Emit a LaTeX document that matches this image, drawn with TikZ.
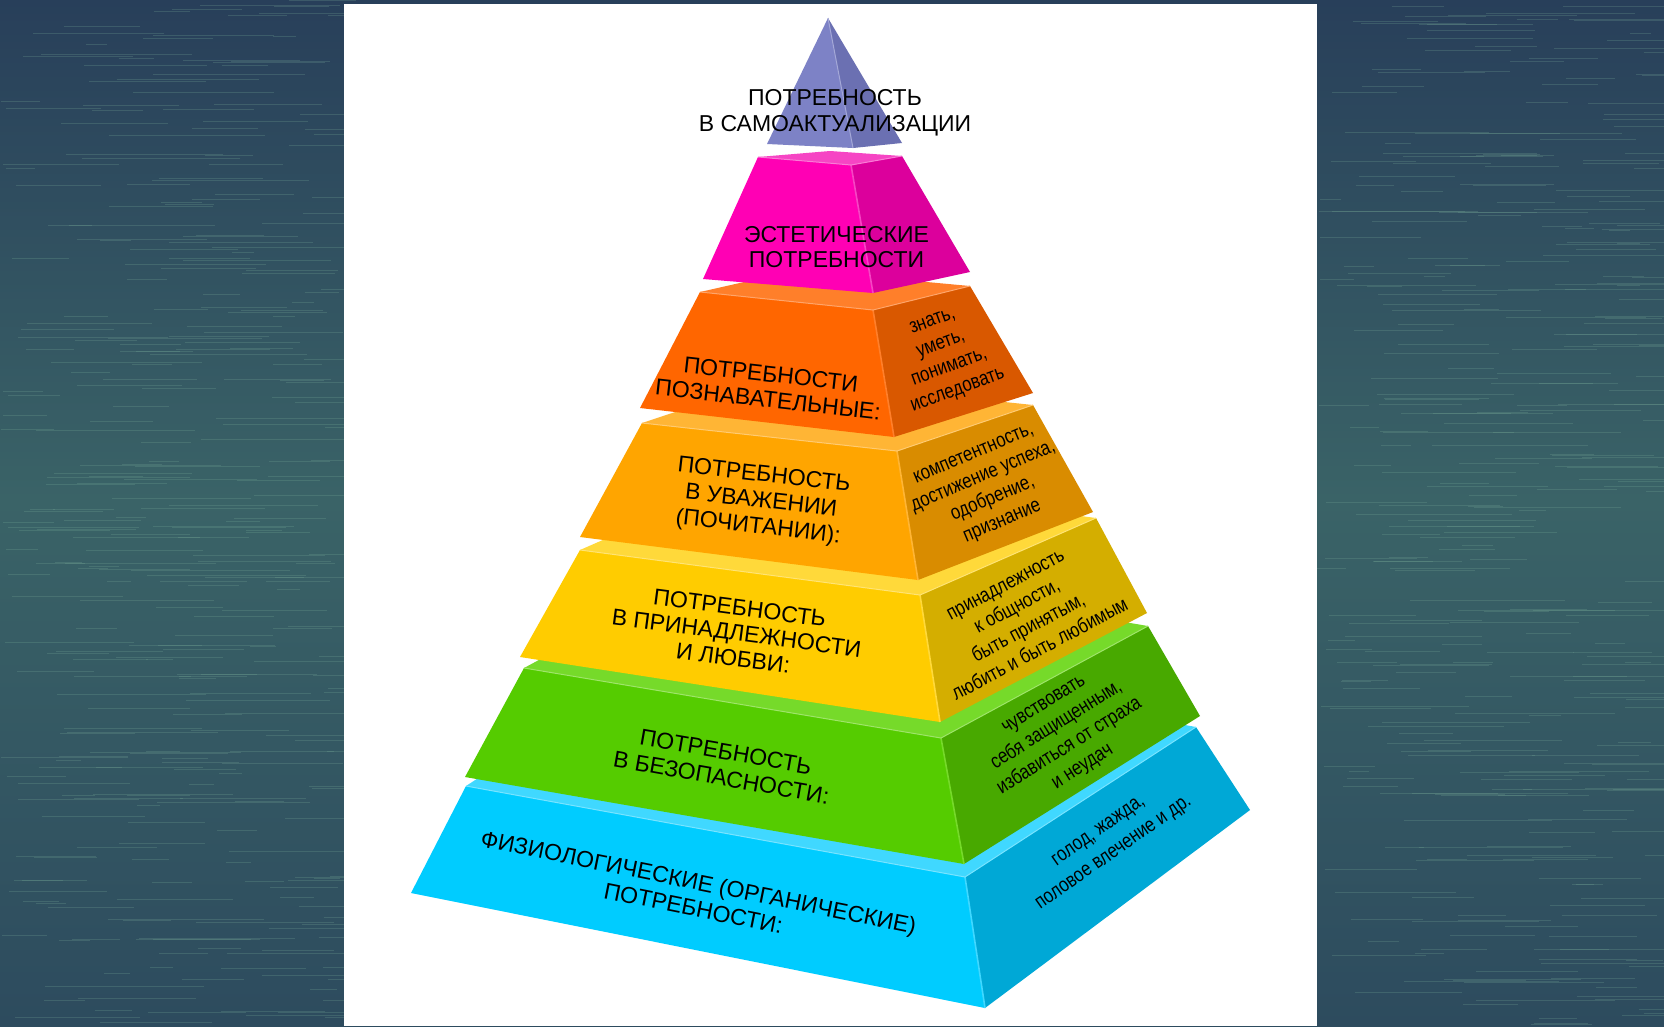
\documentclass[tikz,border=0pt]{standalone}
\usepackage{fontspec}
\setmainfont{Liberation Sans}
\newfontfamily\sidefont[FakeStretch=0.82]{Liberation Sans}
\usetikzlibrary{calc}
\definecolor{bgtop}{HTML}{283F5A}
\definecolor{bgmid}{HTML}{3A6367}
\definecolor{bgbot}{HTML}{2D4B5E}
\definecolor{streak}{HTML}{78AA98}
% purple
\definecolor{lpleft}{HTML}{7D82C6}
\definecolor{lpright}{HTML}{6B70B2}
% magenta
\definecolor{lmtop}{HTML}{F645C4}
\definecolor{lmfront}{HTML}{FF00B4}
\definecolor{lmside}{HTML}{DC009C}
% orange
\definecolor{lotop}{HTML}{FF7F2A}
\definecolor{lofront}{HTML}{FF6600}
\definecolor{loside}{HTML}{D95800}
% amber
\definecolor{latop}{HTML}{FFB535}
\definecolor{lafront}{HTML}{FFA500}
\definecolor{laside}{HTML}{D98C00}
% yellow
\definecolor{lytop}{HTML}{FFD93A}
\definecolor{lyfront}{HTML}{FFCC00}
\definecolor{lyside}{HTML}{D4AE00}
% green
\definecolor{lgtop}{HTML}{76DA2A}
\definecolor{lgfront}{HTML}{55CC00}
\definecolor{lgside}{HTML}{48A900}
% cyan
\definecolor{lctop}{HTML}{40D8FF}
\definecolor{lcfront}{HTML}{00CCFF}
\definecolor{lcside}{HTML}{00A8D6}
\tikzset{
  maintext/.style={align=center, font=\fontsize{23}{25.5}\selectfont, text=black, inner sep=0pt},
  sidetext/.style={align=center, font=\sidefont\fontsize{20.5}{24.5}\selectfont, text=black, inner sep=0pt},
}
% #1 colour prefix, #2 TL, #3 TB, #4 TR, #5 TF, #6 BL, #7 BF, #8 BR
\newcommand\pyrlayer[8]{%
  \fill[#1top] #2 -- #3 -- #4 -- #5 -- cycle;
  \fill[#1front] #2 -- #5 -- #7 -- #6 -- cycle;
  \fill[#1side] #5 -- #4 -- #8 -- #7 -- cycle;
  \draw[#1top, line width=1.6pt] #5 -- #7;
  \draw[#1top!70!white, line width=1pt] #2 -- #5 -- #4;
}
\begin{document}
\begin{tikzpicture}[x=1pt,y=-1pt]
\useasboundingbox (0,0) rectangle (1664,1026);
% background
\fill[bgbot] (0,0) rectangle (1664,1026);
\shade[top color=bgtop, bottom color=bgmid] (0,0) rectangle (1664,500);
\shade[top color=bgmid, bottom color=bgbot] (0,500) rectangle (1664,1026);
\pgfmathsetseed{11}
\foreach \i in {1,...,320}{
  \pgfmathsetmacro\yy{rnd*1026}
  \pgfmathsetmacro\xx{rnd*330}
  \pgfmathsetmacro\ll{20+rnd*140}
  \draw[streak, opacity=0.25, line width=1pt] (\xx,\yy) -- ++(\ll,0);
  \pgfmathsetmacro\yb{rnd*1026}
  \pgfmathsetmacro\xb{1317+rnd*330}
  \pgfmathsetmacro\lb{20+rnd*140}
  \draw[streak, opacity=0.25, line width=1pt] (\xb,\yb) -- ++(\lb,0);
}
% white panel
\fill[white] (344,4) rectangle (1317,1026);

% layers, bottom to top
\pyrlayer{lc}{(466,786)}{(697,636)}{(1196,727)}{(965,877)}{(411,893)}{(985,1008)}{(1250,810)}
\pyrlayer{lg}{(524,668)}{(732,556)}{(1148,626)}{(941,738)}{(465,777)}{(964,864)}{(1200,716)}
\pyrlayer{ly}{(580,550)}{(756,473)}{(1096,518)}{(920,595)}{(520,657)}{(940,722)}{(1147,613)}
\pyrlayer{la}{(642,423)}{(778,378)}{(1033,405)}{(897,451)}{(580,537)}{(918,580)}{(1093,512)}
\pyrlayer{lo}{(700,292)}{(797,270)}{(970,286)}{(873,310)}{(640,408)}{(894,437)}{(1033,393)}
\pyrlayer{lm}{(758,157)}{(830,151)}{(902,156)}{(851,165)}{(703,279)}{(873,293)}{(970,272)}
% apex
\fill[lpleft] (828,18) -- (767,144) -- (853,148) -- cycle;
\fill[lpright] (828,18) -- (853,148) -- (902,143) -- cycle;
\draw[lpleft!70!white, line width=1pt] (828,18) -- (853,148);

% front labels
\node[maintext] (t7) at (835,113) {ПОТРЕБНОСТЬ\\В САМОАКТУАЛИЗАЦИИ};
\node[maintext] (t6) at (836.5,247) {ЭСТЕТИЧЕСКИЕ\\ПОТРЕБНОСТИ};
\node[maintext, rotate=-6.4] (t5) at (769.5,387) {ПОТРЕБНОСТИ\\ПОЗНАВАТЕЛЬНЫЕ:};
\node[maintext, rotate=-6.5, font=\fontsize{23}{26}\selectfont] (t4) at (761,502) {ПОТРЕБНОСТЬ\\В УВАЖЕНИИ\\(ПОЧИТАНИИ):};
\node[maintext, rotate=-7.5, font=\fontsize{23}{25.5}\selectfont] (t3) at (736.5,633) {ПОТРЕБНОСТЬ\\В ПРИНАДЛЕЖНОСТИ\\И ЛЮБВИ:};
\node[maintext, rotate=-10, font=\fontsize{23}{26}\selectfont] (t2) at (723.6,764.6) {ПОТРЕБНОСТЬ\\В БЕЗОПАСНОСТИ:};
\node[maintext, rotate=-11.4, font=\fontsize{23}{26.5}\selectfont] (t1) at (696,895) {ФИЗИОЛОГИЧЕСКИЕ (ОРГАНИЧЕСКИЕ)\\ПОТРЕБНОСТИ:};

% side labels
\node[sidetext, rotate=20] (s5) at (945.5,357) {знать,\\уметь,\\понимать,\\исследовать};
\node[sidetext, rotate=23] (s4) at (988.5,489) {компетентность,\\достижение успеха,\\одобрение,\\признание};
\node[sidetext, rotate=28] (s3) at (1023,617.6) {принадлежность\\к общности,\\быть принятым,\\любить и быть любимым};
\node[sidetext, rotate=32] (s2) at (1063.9,737) {чувствовать\\себя защищенным,\\избавиться от страха\\и неудач};
\node[sidetext, rotate=35, font=\sidefont\fontsize{20.5}{26.5}\selectfont] (s1) at (1106.8,843) {голод, жажда,\\половое влечение и др.};
\end{tikzpicture}
\end{document}
